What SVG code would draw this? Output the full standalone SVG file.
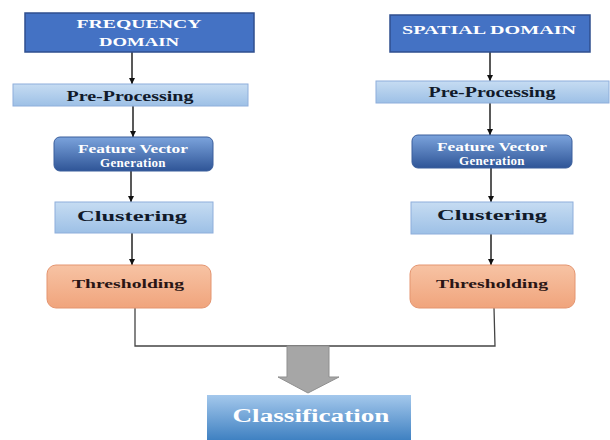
<svg xmlns="http://www.w3.org/2000/svg" width="610" height="440" viewBox="0 0 610 440">
<defs>
<linearGradient id="gLight" x1="0" y1="0" x2="0" y2="1"><stop offset="0" stop-color="#c6dcf2"/><stop offset="1" stop-color="#9dc0e6"/></linearGradient>
<linearGradient id="gFvg" x1="0" y1="0" x2="0" y2="1"><stop offset="0" stop-color="#7ba3dc"/><stop offset="1" stop-color="#2f5597"/></linearGradient>
<linearGradient id="gThr" x1="0" y1="0" x2="0" y2="1"><stop offset="0" stop-color="#f7c3a4"/><stop offset="1" stop-color="#f0a47c"/></linearGradient>
<linearGradient id="gCls" x1="0" y1="0" x2="0" y2="1"><stop offset="0" stop-color="#a4c8ec"/><stop offset="1" stop-color="#3479bd"/></linearGradient>
<marker id="ah" viewBox="0 0 10 10" refX="10" refY="5" markerWidth="6" markerHeight="6" markerUnits="userSpaceOnUse" orient="auto"><path d="M0,0 L10,5 L0,10 z" fill="#111"/></marker>
</defs>
<style>
.dom{fill:#4472c4;stroke:#2f4f8f;stroke-width:1.5}
.lite{fill:url(#gLight);stroke:#8eaedb;stroke-width:1}
.fvg{fill:url(#gFvg);stroke:#3a5e9c;stroke-width:1}
.thr{fill:url(#gThr);stroke:#e49570;stroke-width:1}
.cls{fill:url(#gCls)}
text{font-family:"Liberation Serif","Times New Roman",serif;font-weight:bold;text-anchor:middle}
.w{fill:#fff}
.k{fill:#111a2a}
.r{fill:#2a1515}
.conn{stroke:#222;stroke-width:1.5;fill:none}
.join{stroke:#444;stroke-width:1.3;fill:none}
</style>
<rect width="610" height="440" fill="#fff"/>
<g id="connectors">
<line class="conn" x1="132" y1="52" x2="132" y2="84" marker-end="url(#ah)"/>
<line class="conn" x1="133" y1="106" x2="133" y2="137" marker-end="url(#ah)"/>
<line class="conn" x1="131" y1="171" x2="131" y2="202" marker-end="url(#ah)"/>
<line class="conn" x1="132" y1="233" x2="132" y2="265" marker-end="url(#ah)"/>
<line class="conn" x1="490" y1="52" x2="490" y2="81" marker-end="url(#ah)"/>
<line class="conn" x1="490" y1="103" x2="490" y2="135" marker-end="url(#ah)"/>
<line class="conn" x1="491" y1="168" x2="491" y2="202" marker-end="url(#ah)"/>
<line class="conn" x1="491" y1="234" x2="491" y2="265" marker-end="url(#ah)"/>
<polyline class="join" points="135,308 135,346 495,346 494,308"/>
<polygon points="287,346 329,346 329,377 339,377 308,393 278,377 287,377" fill="#a6a6a6" stroke="#8f8f8f" stroke-width="1"/>
</g>
<g id="freq-domain"><rect class="dom" x="25" y="13" width="229" height="39"/><text class="w" x="139" y="28" font-size="13" textLength="125" lengthAdjust="spacingAndGlyphs">FREQUENCY</text><text class="w" x="139" y="46" font-size="13" textLength="80" lengthAdjust="spacingAndGlyphs">DOMAIN</text></g>
<g id="freq-pre"><rect class="lite" x="13" y="84" width="235" height="22"/><text class="k" x="130" y="101" font-size="14" textLength="127" lengthAdjust="spacingAndGlyphs">Pre-Processing</text></g>
<g id="freq-fvg"><rect class="fvg" x="54" y="137" width="159" height="34" rx="6"/><text class="w" x="133" y="153" font-size="12" textLength="110" lengthAdjust="spacingAndGlyphs">Feature Vector</text><text class="w" x="133" y="167" font-size="13" letter-spacing="0.3">Generation</text></g>
<g id="freq-clu"><rect class="lite" x="55" y="202" width="158" height="31"/><text class="k" x="132" y="221" font-size="14" textLength="110" lengthAdjust="spacingAndGlyphs">Clustering</text></g>
<g id="freq-thr"><rect class="thr" x="47" y="265" width="164" height="43" rx="9"/><text class="r" x="128" y="288" font-size="13" textLength="112" lengthAdjust="spacingAndGlyphs">Thresholding</text></g>
<g id="spat-domain"><rect class="dom" x="390" y="15" width="200" height="37"/><text class="w" x="489" y="34" font-size="13" textLength="174" lengthAdjust="spacingAndGlyphs">SPATIAL DOMAIN</text></g>
<g id="spat-pre"><rect class="lite" x="376" y="81" width="233" height="22"/><text class="k" x="492" y="97" font-size="14" textLength="127" lengthAdjust="spacingAndGlyphs">Pre-Processing</text></g>
<g id="spat-fvg"><rect class="fvg" x="412" y="135" width="160" height="33" rx="6"/><text class="w" x="492" y="151" font-size="12" textLength="110" lengthAdjust="spacingAndGlyphs">Feature Vector</text><text class="w" x="492" y="165" font-size="13" letter-spacing="0.3">Generation</text></g>
<g id="spat-clu"><rect class="lite" x="411" y="202" width="162" height="32"/><text class="k" x="492" y="220" font-size="14" textLength="110" lengthAdjust="spacingAndGlyphs">Clustering</text></g>
<g id="spat-thr"><rect class="thr" x="410" y="265" width="165" height="43" rx="9"/><text class="r" x="492" y="288" font-size="13" textLength="112" lengthAdjust="spacingAndGlyphs">Thresholding</text></g>
<g id="classification"><rect class="cls" x="207" y="395" width="204" height="50"/><text class="w" x="311" y="422" font-size="18" textLength="157" lengthAdjust="spacingAndGlyphs">Classification</text></g>
</svg>
